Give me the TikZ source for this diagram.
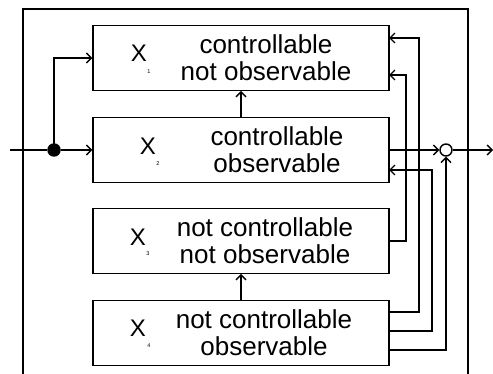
\documentclass[tikz,border=0pt]{standalone}
\usepackage{fontspec}
\setmainfont{Liberation Sans}
\usetikzlibrary{arrows.meta,calc}

\tikzset{
  wire/.style={line width=1.4pt, line join=miter},
  flow/.style={wire, -{Straight Barb[length=5pt,width=10pt,line width=1.3pt]}},
  block/.style={draw, line width=1.4pt, rectangle, minimum width=296pt, minimum height=64.5pt, inner sep=0pt},
  statevar/.style={inner sep=0pt, font=\fontsize{24}{24}\selectfont},
  idx/.style={inner sep=0pt, font=\fontsize{5.5}{6}\selectfont},
  caption/.style={inner sep=0pt, align=center, font=\fontsize{26}{27}\selectfont},
  junction/.style={circle, draw, line width=1.4pt, minimum size=12pt, inner sep=0pt},
  branch/.style={circle, fill, minimum size=13.5pt, inner sep=0pt}
}

\begin{document}
\begin{tikzpicture}[x=1pt, y=-1pt]
  \useasboundingbox (0,0) rectangle (493,374);

  % system boundary (open at the bottom)
  \draw[wire] (23,374) -- (23,9) -- (468,9) -- (468,374);

  % the four subsystems
  \node[block] (b1) at (241,58)  {};
  \node[block] (b2) at (241,150) {};
  \node[block] (b3) at (241,241) {};
  \node[block] (b4) at (241,333) {};

  % state names
  \node[statevar] (x1) at (139,53)    {X};
  \node[idx]      (i1) at (149,72)    {1};
  \node[statevar] (x2) at (148,146.5) {X};
  \node[idx]      (i2) at (158,164)   {2};
  \node[statevar] (x3) at (138,237)   {X};
  \node[idx]      (i3) at (148,254)   {3};
  \node[statevar] (x4) at (138,328.5) {X};
  \node[idx]      (i4) at (149,346)   {4};

  % properties
  \node[caption] (t1) at (266,58)  {controllable\\not observable};
  \node[caption] (t2) at (277,150) {controllable\\observable};
  \node[caption] (t3) at (265,241) {not controllable\\not observable};
  \node[caption] (t4) at (264,333) {not controllable\\observable};

  % input, branch point, summing point, output
  \coordinate (in)  at (10,150);
  \node[branch]   (dot) at (54,150) {};
  \node[junction] (sum) at (446,150) {};
  \coordinate (out) at (493,150);

  % input distribution
  \draw[wire] (in) -- (dot);
  \draw[flow] (dot) -- (b2.west);
  \draw[flow] (dot.center) |- (b1.west);

  % couplings between blocks
  \draw[flow] (b2.north) -- (b1.south);
  \draw[flow] (b4.north) -- (b3.south);

  % outputs
  \draw[flow] (b2.east) -- (sum.west);
  \draw[flow] (sum.east) -- (out);

  % feedback paths on the right
  \coordinate (f3) at (389,241);
  \coordinate (f4a) at (389,312);
  \coordinate (f4b) at (389,331);
  \coordinate (f4c) at (389,350);
  \coordinate (g1a) at (389,75);
  \coordinate (g1b) at (389,38);
  \coordinate (g2)  at (389,170);

  \draw[flow] (f3) -- (406,241) -- (406,75) -- (g1a);
  \draw[flow] (f4a) -- (419,312) -- (419,38) -- (g1b);
  \draw[flow] (f4b) -- (432,331) -- (432,170) -- (g2);
  \draw[flow] (f4c) -- (446,350) -- (sum.south);
\end{tikzpicture}
\end{document}
